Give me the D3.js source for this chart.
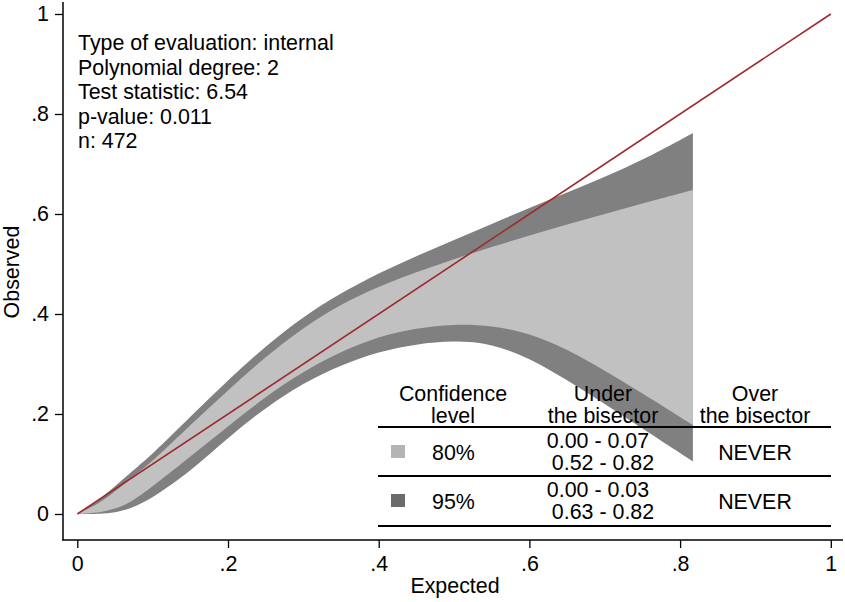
<!DOCTYPE html>
<html>
<head>
<meta charset="utf-8">
<script src="https://cdn.jsdelivr.net/npm/d3@7"></script>
<style>
  html, body { margin: 0; padding: 0; background: #fff; }
  svg { display: block; font-family: "Liberation Sans", Arial, sans-serif; }
</style>
</head>
<body>
<svg id="chart" width="845" height="602"></svg>
<script>
// ---- data ----
const expected = [0, 0.03, 0.05, 0.07, 0.1, 0.15, 0.2, 0.25, 0.3, 0.35, 0.4, 0.45, 0.5, 0.55, 0.6, 0.65, 0.7, 0.75, 0.8, 0.817];
const upper95  = [0, 0.03, 0.055, 0.082, 0.12, 0.195, 0.268, 0.336, 0.395, 0.442, 0.482, 0.516, 0.548, 0.58, 0.612, 0.643, 0.674, 0.708, 0.748, 0.762];
const upper80  = [0, 0.022, 0.045, 0.07, 0.105, 0.178, 0.247, 0.315, 0.373, 0.42, 0.455, 0.484, 0.51, 0.534, 0.557, 0.579, 0.6, 0.621, 0.641, 0.648];
const lower80  = [0, 0.003, 0.01, 0.022, 0.055, 0.115, 0.175, 0.235, 0.285, 0.325, 0.355, 0.372, 0.38, 0.377, 0.362, 0.33, 0.287, 0.241, 0.194, 0.178];
const lower95  = [0, 0.0, 0.003, 0.01, 0.032, 0.085, 0.153, 0.213, 0.262, 0.298, 0.325, 0.34, 0.347, 0.341, 0.312, 0.268, 0.22, 0.171, 0.122, 0.105];
const bisector = [0, 1];
const tickValues = [0, 0.2, 0.4, 0.6, 0.8, 1];
const infoLines = ["Type of evaluation: internal", "Polynomial degree: 2", "Test statistic: 6.54", "p-value: 0.011", "n: 472"];
const tableHeaders = [["Confidence", "level"], ["Under", "the bisector"], ["Over", "the bisector"]];
const levels = ["80%", "95%"];
const underRanges = [["0.00 - 0.07", "0.52 - 0.82"], ["0.00 - 0.03", "0.63 - 0.82"]];
const overRanges = ["NEVER", "NEVER"];

// ---- layout ----
const svg = d3.select("#chart");
const x = d3.scaleLinear().domain([0, 1]).range([77.3, 830.8]);
const y = d3.scaleLinear().domain([0, 1]).range([514, 14]);
const FS = 21.4;
const darkGray = "#808080", lightGray = "#c1c1c1", red = "#9e2a2f";

const pts = expected.map((e, i) => ({ e, u95: upper95[i], u80: upper80[i], l80: lower80[i], l95: lower95[i] }));

const curve = d3.curveBasis;
const area95 = d3.area().x(d => x(d.e)).y0(d => y(d.l95)).y1(d => y(d.u95)).curve(curve);
const area80 = d3.area().x(d => x(d.e)).y0(d => y(d.l80)).y1(d => y(d.u80)).curve(curve);

svg.append("path").datum(pts).attr("d", area95).attr("fill", darkGray);
svg.append("path").datum(pts).attr("d", area80).attr("fill", lightGray);

svg.append("path")
  .datum(bisector)
  .attr("d", d3.line().x(d => x(d)).y(d => y(d)))
  .attr("stroke", red).attr("stroke-width", 1.6).attr("fill", "none");

// ---- axes ----
const fmt = v => v === 0 ? "0" : v === 1 ? "1" : d3.format(".1f")(v).replace(/^0/, "");

const gx = svg.append("g").attr("transform", "translate(0,540)")
  .call(d3.axisBottom(x).tickValues(tickValues).tickFormat(fmt).tickSize(8).tickSizeOuter(0));
gx.select(".domain").remove();
gx.selectAll(".tick line").attr("stroke", "#000").attr("stroke-width", 1.3);
gx.selectAll(".tick text").attr("font-size", FS).attr("font-family", "Liberation Sans, Arial, sans-serif").attr("fill", "#000").attr("dy", "0.95em");

const gy = svg.append("g").attr("transform", "translate(63,0)")
  .call(d3.axisLeft(y).tickValues(tickValues).tickFormat(fmt).tickSize(8).tickSizeOuter(0));
gy.select(".domain").remove();
gy.selectAll(".tick line").attr("stroke", "#000").attr("stroke-width", 1.3);
gy.selectAll(".tick text").attr("font-size", FS).attr("font-family", "Liberation Sans, Arial, sans-serif").attr("fill", "#000").attr("x", -14);

svg.append("line").attr("x1", 63).attr("x2", 63).attr("y1", 2).attr("y2", 540.5).attr("stroke", "#000").attr("stroke-width", 1.5);
svg.append("line").attr("x1", 62.3).attr("x2", 843).attr("y1", 540).attr("y2", 540).attr("stroke", "#000").attr("stroke-width", 1.5);

svg.append("text").attr("x", 455).attr("y", 593).attr("text-anchor", "middle").attr("font-size", FS).text("Expected");
svg.append("text").attr("transform", "translate(19,272) rotate(-90)").attr("text-anchor", "middle").attr("font-size", FS).text("Observed");

// ---- info text ----
svg.append("g").selectAll("text").data(infoLines).join("text")
  .attr("x", 78).attr("y", (d, i) => 50 + i * 24.5)
  .attr("font-size", FS).attr("fill", "#000").text(d => d);

// ---- table ----
const colX = [453, 603, 755];
const tbl = svg.append("g");
tableHeaders.forEach((h, i) => {
  tbl.append("text").attr("x", colX[i]).attr("y", 401).attr("text-anchor", "middle").attr("font-size", FS).text(h[0]);
  tbl.append("text").attr("x", colX[i]).attr("y", 423).attr("text-anchor", "middle").attr("font-size", FS).text(h[1]);
});
[427, 476, 526].forEach(yy => {
  tbl.append("line").attr("x1", 378).attr("x2", 831).attr("y1", yy).attr("y2", yy).attr("stroke", "#000").attr("stroke-width", 1.8);
});
const rowY = [452, 501];
const swatch = ["#b4b4b4", "#6b6b6b"];
levels.forEach((lv, i) => {
  const ry = rowY[i];
  tbl.append("rect").attr("x", 391).attr("y", ry - 7).attr("width", 14).attr("height", 13).attr("fill", swatch[i]);
  tbl.append("text").attr("x", 432).attr("y", ry + 8).attr("font-size", FS).text(lv);
  tbl.append("text").attr("x", 598).attr("y", ry - 4).attr("text-anchor", "middle").attr("font-size", FS).text(underRanges[i][0]);
  tbl.append("text").attr("x", 603).attr("y", ry + 18).attr("text-anchor", "middle").attr("font-size", FS).text(underRanges[i][1]);
  tbl.append("text").attr("x", 755).attr("y", ry + 8).attr("text-anchor", "middle").attr("font-size", FS).text(overRanges[i]);
});
</script>
</body>
</html>
